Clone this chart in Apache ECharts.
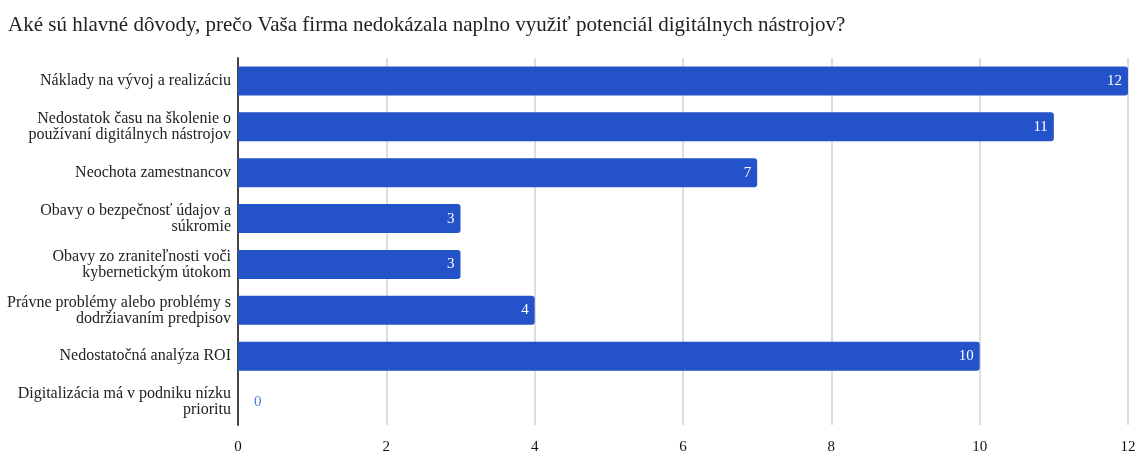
<!DOCTYPE html>
<html>
<head>
<meta charset="utf-8">
<script src="https://cdn.jsdelivr.net/npm/echarts@6/dist/echarts.min.js"></script>
<style>
  html, body { margin: 0; padding: 0; background: #fff; }
  #chart { width: 1144px; height: 455px; }
</style>
</head>
<body>
<div id="chart"></div>
<script>
const titleText = 'Aké sú hlavné dôvody, prečo Vaša firma nedokázala naplno využiť potenciál digitálnych nástrojov?';

const categories = [
  'Náklady na vývoj a realizáciu',
  'Nedostatok času na školenie o\npoužívaní digitálnych nástrojov',
  'Neochota zamestnancov',
  'Obavy o bezpečnosť údajov a\nsúkromie',
  'Obavy zo zraniteľnosti voči\nkybernetickým útokom',
  'Právne problémy alebo problémy s\ndodržiavaním predpisov',
  'Nedostatočná analýza ROI',
  'Digitalizácia má v podniku nízku\nprioritu'
];

const counts = [12, 11, 7, 3, 3, 4, 10, 0];

const axisMin = 0;
const axisMax = 12;
const axisStep = 2;

const barColor = '#2452c8';
const serif = '"Liberation Serif", "DejaVu Serif", serif';

const chart = echarts.init(document.getElementById('chart'));

chart.setOption({
  animation: false,
  title: {
    text: titleText,
    left: 3,
    top: 10,
    textStyle: { fontFamily: serif, fontSize: 21, fontWeight: 'normal', color: '#222' }
  },
  grid: { left: 238, right: 16, top: 58, bottom: 29, containLabel: false },
  xAxis: {
    type: 'value',
    min: axisMin,
    max: axisMax,
    interval: axisStep,
    axisLine: { show: false },
    axisTick: { show: false },
    splitLine: { lineStyle: { color: '#dddddd', width: 2 } },
    axisLabel: { fontFamily: serif, fontSize: 15, color: '#111', margin: 15 }
  },
  yAxis: {
    type: 'category',
    inverse: true,
    data: categories,
    axisLine: { show: true, lineStyle: { color: '#444', width: 2 } },
    axisTick: { show: false },
    axisLabel: {
      fontFamily: serif, fontSize: 16, color: '#222', margin: 7,
      lineHeight: 16, align: 'right'
    }
  },
  series: [{
    type: 'bar',
    data: counts.map(v => v === 0
      ? { value: v, label: { position: 'right', color: '#4f80dd', distance: 16 } }
      : v),
    barWidth: 29,
    itemStyle: { color: barColor, borderRadius: [0, 3, 3, 0] },
    label: {
      show: true,
      position: 'insideRight',
      distance: 6,
      color: '#ffffff',
      fontFamily: serif,
      fontSize: 15
    }
  }]
});
</script>
</body>
</html>
